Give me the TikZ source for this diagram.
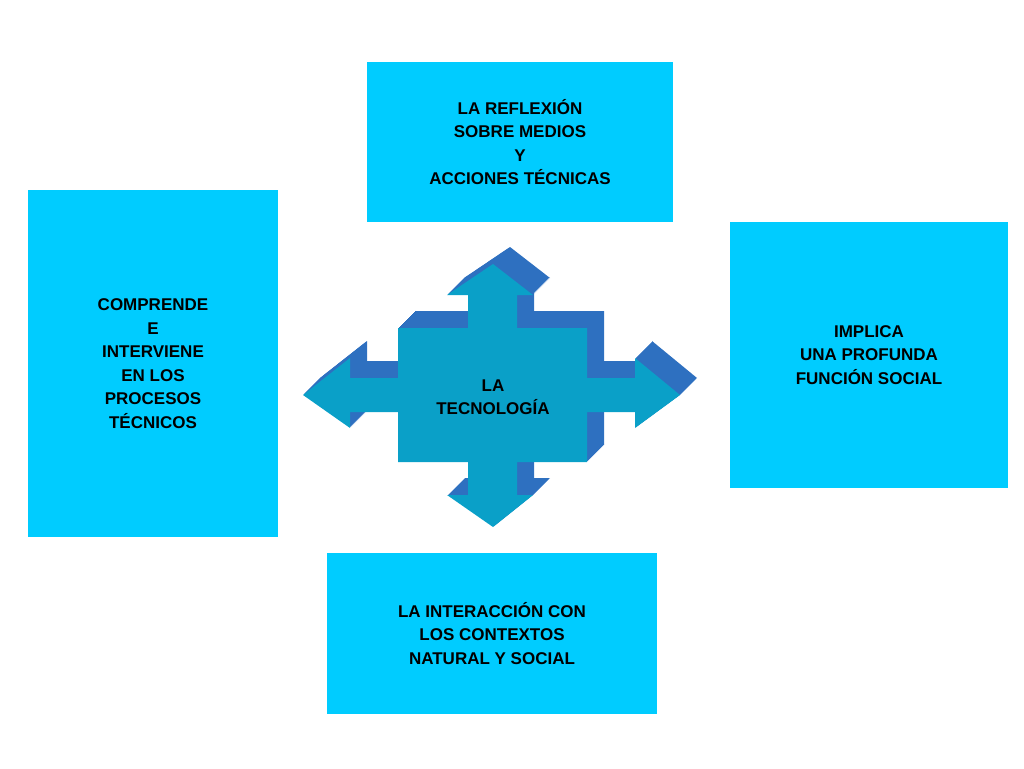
\documentclass[tikz,border=0pt]{standalone}
\usepackage{fontspec}
\setmainfont{Liberation Sans}
\begin{document}
\begin{tikzpicture}[x=1pt,y=-1pt,
  bx/.style={fill=boxc,draw=none,align=center,font=\fontsize{17}{23.5}\selectfont\bfseries,inner sep=0pt},
  ]
\definecolor{boxc}{HTML}{00CCFF}
\definecolor{frontc}{HTML}{0AA0C8}
\definecolor{sidec}{HTML}{2E70C0}
\useasboundingbox (0,0) rectangle (1024,768);
\def\techshape{(493,264)--(533,295)--(517,295)--(517,328)--(587,328)--(587,378)--(635,378)--(635,358)--(680,395)--(635,428)--(635,412)--(587,412)--(587,462)--(517,462)--(517,495)--(533,495)--(493,527)--(447,495)--(468,495)--(468,462)--(398,462)--(398,412)--(350,412)--(350,428)--(303,395)--(350,358)--(350,378)--(398,378)--(398,328)--(468,328)--(468,295)--(447,295)--cycle}
\node[bx,minimum width=306,minimum height=160] (top) at (520,142) {LA REFLEXIÓN\\SOBRE MEDIOS\\Y\\ACCIONES TÉCNICAS};
\node[bx,minimum width=250,minimum height=347] (left) at (153,363.5) {COMPRENDE\\E\\INTERVIENE\\EN LOS\\PROCESOS\\TÉCNICOS};
\node[bx,minimum width=278,minimum height=266] (right) at (869,355) {IMPLICA\\UNA PROFUNDA\\FUNCIÓN SOCIAL};
\node[bx,minimum width=330,minimum height=161] (bottom) at (492,633.5) {LA INTERACCIÓN CON\\LOS CONTEXTOS\\NATURAL Y SOCIAL};
\foreach \i in {17,16,...,1}{\fill[sidec,shift={(\i,-\i)}] \techshape;}
\fill[frontc] \techshape;
\node[font=\fontsize{17}{23.5}\selectfont\bfseries,align=center] (tech) at (493,397) {LA\\TECNOLOGÍA};
\end{tikzpicture}
\end{document}
